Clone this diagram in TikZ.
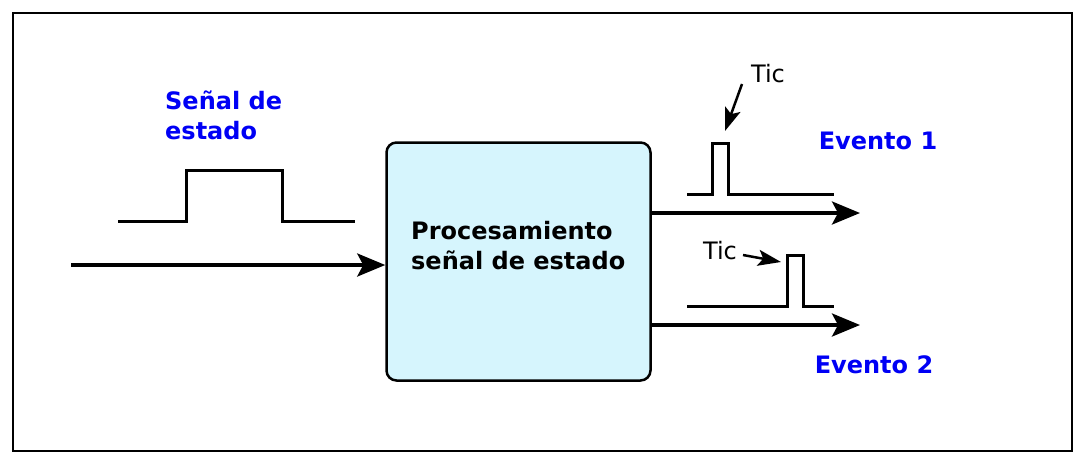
\documentclass[tikz,border=0pt]{standalone}
\usepackage{fontspec}
\setmainfont{DejaVu Sans}
\usetikzlibrary{arrows.meta}
\definecolor{boxfill}{RGB}{214,245,253}
\definecolor{lblblue}{RGB}{0,0,245}
\begin{document}
\begin{tikzpicture}[x=1pt,y=-1pt,
  frame/.style={draw=black,line width=2pt},
  procbox/.style={draw=black,line width=2.5pt,fill=boxfill,rounded corners=10pt,minimum width=264pt,minimum height=238pt,inner sep=0pt},
  bigarr/.style={line width=3.5pt,-{Stealth[length=28pt,width=23pt,inset=6pt]}},
  ticarr/.style={line width=2.5pt,-{Stealth[length=23pt,width=16pt,inset=5pt]}},
  pulse/.style={line width=3pt,line join=miter},
  bluelbl/.style={text=lblblue,font=\fontsize{24}{30}\selectfont\bfseries,inner sep=0pt,align=left},
  blacklbl/.style={text=black,font=\fontsize{24}{30}\selectfont\bfseries,inner sep=0pt,align=left},
  ticlbl/.style={text=black,font=\fontsize{24}{28}\selectfont,inner sep=0pt}]
\useasboundingbox (0,0) rectangle (1089,469);
\draw[frame] (13,13) rectangle (1072,451);
% processing box
\node[procbox] (proc) at (518.5,261.5) {};
\node[blacklbl,anchor=north west] (proclbl) at (411,221.5) {Procesamiento\\señal de estado};
% input
\coordinate (inS) at (71,265);
\draw[bigarr] (inS) -- (proc.west |- inS);
\draw[pulse] (118,221) -- (186,221) -- (186,170) -- (282,170) -- (282,221) -- (355,221);
\node[bluelbl,anchor=north west] (senal) at (165,90.5) {Señal de\\estado};
% outputs
\coordinate (o1) at (860,213);
\coordinate (o2) at (860,325);
\draw[bigarr] (proc.east |- o1) -- (o1);
\draw[bigarr] (proc.east |- o2) -- (o2);
\draw[pulse] (687,194) -- (712,194) -- (712,143) -- (728,143) -- (728,194) -- (834,194);
\draw[pulse] (687,306) -- (787,306) -- (787,255) -- (803,255) -- (803,306) -- (834,306);
\node[bluelbl] (ev1) at (878,141) {Evento 1};
\node[bluelbl] (ev2) at (874,365) {Evento 2};
% tics
\node[ticlbl] (tic1) at (768,74) {Tic};
\node[ticlbl] (tic2) at (720,251) {Tic};
\coordinate (t1s) at (742,84);
\coordinate (t1e) at (725,131);
\draw[ticarr] (t1s) -- (t1e);
\coordinate (t2s) at (743,255);
\coordinate (t2e) at (781,262);
\draw[ticarr] (t2s) -- (t2e);
\end{tikzpicture}
\end{document}
